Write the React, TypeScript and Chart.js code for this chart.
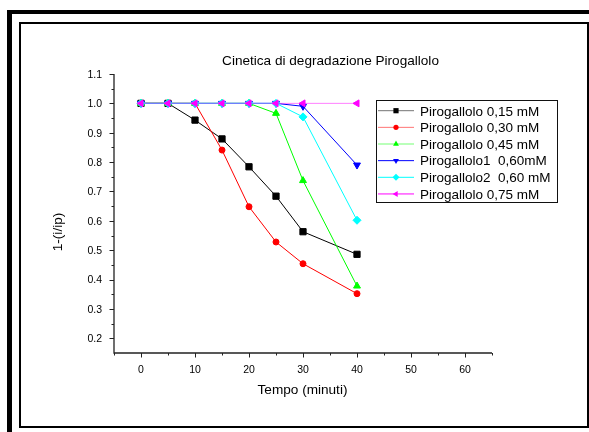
import React, { useEffect, useRef } from 'react';
import { Chart, registerables } from 'chart.js';

Chart.register(...registerables);

// ---------- data ----------
const times = [0, 5, 10, 15, 20, 25, 30, 40];
const s015 = [1.0, 1.0, 0.943, 0.879, 0.784, 0.684, 0.563, 0.486];
const s030 = [1.0, 1.0, 1.0, 0.841, 0.648, 0.528, 0.454, 0.352];
const s045 = [1.0, 1.0, 1.0, 1.0, 1.0, 0.966, 0.737, 0.378];
const s060a = [1.0, 1.0, 1.0, 1.0, 1.0, 1.0, 0.99, 0.79];
const s060b = [1.0, 1.0, 1.0, 1.0, 1.0, 1.0, 0.954, 0.602];
const s075 = [1.0, 1.0, 1.0, 1.0, 1.0, 1.0, 1.0, 1.0];

const seriesNames = [
  'Pirogallolo 0,15 mM',
  'Pirogallolo 0,30 mM',
  'Pirogallolo 0,45 mM',
  'Pirogallolo1  0,60mM',
  'Pirogallolo2  0,60 mM',
  'Pirogallolo 0,75 mM',
];
const seriesValues = [s015, s030, s045, s060a, s060b, s075];

const titleText = 'Cinetica di degradazione Pirogallolo';
const xTitle = 'Tempo (minuti)';
const yTitle = '1-(i/ip)';

const xMajorTicks = [0, 10, 20, 30, 40, 50, 60];
const xTickLabels = ['0', '10', '20', '30', '40', '50', '60'];
const xMinorTicks = [-5, 5, 15, 25, 35, 45, 55, 65];
const yMajorTicks = [0.2, 0.3, 0.4, 0.5, 0.6, 0.7, 0.8, 0.9, 1.0, 1.1];
const yTickLabels = ['0.2', '0.3', '0.4', '0.5', '0.6', '0.7', '0.8', '0.9', '1.0', '1.1'];
const yMinorTicks = [0.25, 0.35, 0.45, 0.55, 0.65, 0.75, 0.85, 0.95, 1.05];

// ---------- styles ----------
const W = 589;
const H = 432;
const FONT = '"Liberation Sans", Arial, sans-serif';
const colors = ['#000000', '#ff0000', '#00ff00', '#0000ff', '#00ffff', '#ff00ff'];
const lineColors = ['#000000', '#ff0000', '#00ff00', '#0000ff', '#00ffff', 'rgba(255,0,255,0.5)'];
const pointStyles = ['rect', 'circle', 'triangle', 'triangle', 'rectRot', 'triangle'];
const pointRotations = [0, 0, 0, 180, 0, -90];
const pointRadii = [4.4, 3, 4, 4, 4, 4];

function drawMarker(ctx: CanvasRenderingContext2D, idx: number, x: number, y: number, s: number) {
  ctx.save();
  ctx.fillStyle = colors[idx];
  ctx.beginPath();
  const style = pointStyles[idx];
  if (style === 'rect') {
    ctx.rect(x - s, y - s, 2 * s, 2 * s);
  } else if (style === 'circle') {
    ctx.arc(x, y, s, 0, Math.PI * 2);
  } else if (style === 'rectRot') {
    const r = s * 1.35;
    ctx.moveTo(x, y - r);
    ctx.lineTo(x + r, y);
    ctx.lineTo(x, y + r);
    ctx.lineTo(x - r, y);
    ctx.closePath();
  } else {
    const r = s * 1.3;
    let rad = (pointRotations[idx] * Math.PI) / 180;
    ctx.moveTo(x + Math.sin(rad) * r, y - Math.cos(rad) * r);
    rad += (2 * Math.PI) / 3;
    ctx.lineTo(x + Math.sin(rad) * r, y - Math.cos(rad) * r);
    rad += (2 * Math.PI) / 3;
    ctx.lineTo(x + Math.sin(rad) * r, y - Math.cos(rad) * r);
    ctx.closePath();
  }
  ctx.fill();
  ctx.restore();
}

const framePlugin = {
  id: 'frame',
  beforeDraw(chart: any) {
    const ctx = chart.ctx as CanvasRenderingContext2D;
    ctx.save();
    ctx.fillStyle = '#ffffff';
    ctx.fillRect(0, 0, W, H);
    ctx.fillStyle = '#000000';
    // outer shadow-like frame
    ctx.fillRect(7, 10, W - 7, 4);
    ctx.fillRect(7, 10, 5, H - 10);
    // inner frame
    ctx.fillRect(19, 22, W - 19, 2);
    ctx.fillRect(19, 22, 2, 406);
    ctx.fillRect(587, 22, 2, 406);
    ctx.fillRect(19, 426, W - 19, 2);
    ctx.restore();
  },
};

const axesPlugin = {
  id: 'axesDraw',
  beforeDatasetsDraw(chart: any) {
    const ctx = chart.ctx as CanvasRenderingContext2D;
    const xs = chart.scales.x;
    const ys = chart.scales.y;
    const ca = chart.chartArea;
    ctx.save();
    ctx.strokeStyle = '#222';
    ctx.lineWidth = 1.3;
    ctx.beginPath();
    ctx.moveTo(ca.left, ca.top);
    ctx.lineTo(ca.left, ca.bottom);
    ctx.lineTo(ca.right, ca.bottom);
    ctx.stroke();

    ctx.lineWidth = 1;
    ctx.beginPath();
    xMajorTicks.forEach((v) => {
      const px = Math.round(xs.getPixelForValue(v)) + 0.5;
      ctx.moveTo(px, ca.bottom);
      ctx.lineTo(px, ca.bottom + 4.5);
    });
    xMinorTicks.forEach((v) => {
      const px = Math.round(xs.getPixelForValue(v)) + 0.5;
      ctx.moveTo(px, ca.bottom);
      ctx.lineTo(px, ca.bottom + 2.5);
    });
    yMajorTicks.forEach((v) => {
      const py = Math.round(ys.getPixelForValue(v)) + 0.5;
      ctx.moveTo(ca.left, py);
      ctx.lineTo(ca.left - 4.5, py);
    });
    yMinorTicks.forEach((v) => {
      const py = Math.round(ys.getPixelForValue(v)) + 0.5;
      ctx.moveTo(ca.left, py);
      ctx.lineTo(ca.left - 2.5, py);
    });
    ctx.stroke();

    ctx.fillStyle = '#000';
    ctx.font = `10.5px ${FONT}`;
    ctx.textBaseline = 'alphabetic';
    ctx.textAlign = 'center';
    xMajorTicks.forEach((v, i) => {
      ctx.fillText(xTickLabels[i], xs.getPixelForValue(v), ca.bottom + 20);
    });
    ctx.textAlign = 'right';
    yMajorTicks.forEach((v, i) => {
      ctx.fillText(yTickLabels[i], ca.left - 12, ys.getPixelForValue(v) + 3.8);
    });

    ctx.font = `13.6px ${FONT}`;
    ctx.textAlign = 'center';
    ctx.fillText(titleText, 330.5, 65);
    ctx.fillText(xTitle, 302.5, 394);
    ctx.save();
    ctx.translate(62, 232);
    ctx.rotate(-Math.PI / 2);
    ctx.fillText(yTitle, 0, 0);
    ctx.restore();
    ctx.restore();
  },
};

const legendPlugin = {
  id: 'legendDraw',
  afterDraw(chart: any) {
    const ctx = chart.ctx as CanvasRenderingContext2D;
    ctx.save();
    ctx.strokeStyle = '#111';
    ctx.lineWidth = 1;
    ctx.strokeRect(376.5, 100.5, 181, 102);
    ctx.font = `13.5px ${FONT}`;
    ctx.textAlign = 'left';
    ctx.textBaseline = 'alphabetic';
    seriesNames.forEach((name, i) => {
      const cy = 110.7 + i * 16.65;
      ctx.strokeStyle = colors[i];
      ctx.globalAlpha = i < 3 ? 0.55 : 1;
      ctx.beginPath();
      ctx.moveTo(378, cy);
      ctx.lineTo(414, cy);
      ctx.stroke();
      ctx.globalAlpha = 1;
      drawMarker(ctx, i, 396, cy, i === 1 ? 2.6 : 2.6);
      ctx.fillStyle = '#000';
      ctx.fillText(name, 420, cy + 4.8);
    });
    ctx.restore();
  },
};

export default function App() {
  const canvasRef = useRef<HTMLCanvasElement | null>(null);

  useEffect(() => {
    const canvas = canvasRef.current;
    if (!canvas) return;
    const datasets = seriesValues.map((vals, i) => ({
      label: seriesNames[i],
      data: times.map((t, j) => ({ x: t, y: vals[j] })),
      borderColor: lineColors[i],
      backgroundColor: colors[i],
      pointBackgroundColor: colors[i],
      pointBorderColor: colors[i],
      pointBorderWidth: 1,
      pointStyle: pointStyles[i],
      pointRotation: pointRotations[i],
      pointRadius: pointRadii[i],
      borderWidth: 1,
      tension: 0,
      fill: false,
      order: seriesValues.length - i,
    }));
    const chart = new Chart(canvas, {
      type: 'line',
      data: { datasets } as any,
      options: {
        responsive: false,
        animation: false,
        events: [],
        layout: { padding: { left: 114, top: 74, right: W - 492, bottom: H - 353 } },
        scales: {
          x: { type: 'linear', min: -5, max: 65, display: false },
          y: { type: 'linear', min: 0.15, max: 1.1, display: false },
        },
        plugins: {
          legend: { display: false },
          title: { display: false },
          tooltip: { enabled: false },
        },
      } as any,
      plugins: [framePlugin, axesPlugin, legendPlugin],
    });
    return () => chart.destroy();
  }, []);

  return (
    <div style={{ position: 'fixed', left: 0, top: 0, width: W, height: H, background: '#fff' }}>
      <canvas ref={canvasRef} width={W} height={H} style={{ display: 'block', width: W, height: H }} />
    </div>
  );
}
